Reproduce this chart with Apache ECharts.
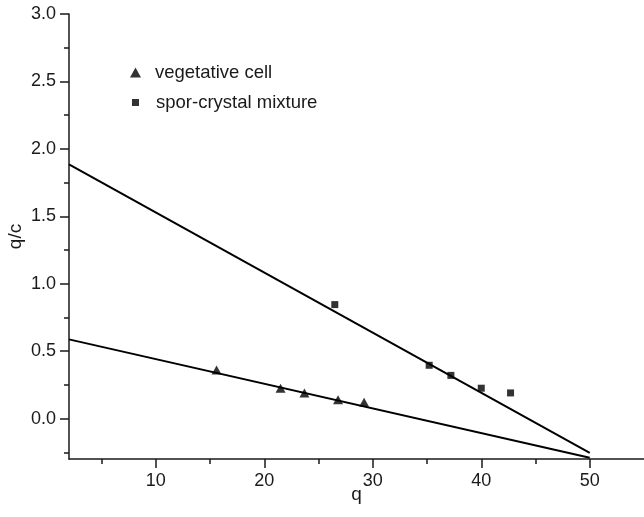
<!DOCTYPE html>
<html>
<head>
<meta charset="utf-8">
<script src="https://cdn.jsdelivr.net/npm/echarts@6/dist/echarts.min.js"></script>
<style>
  html, body { margin: 0; padding: 0; background: #fff; }
  #chart { width: 644px; height: 517px; }
</style>
</head>
<body>
<div id="chart"></div>
<script>
// data
var vegQ = [15.6, 21.5, 23.7, 26.8, 29.2];
var vegQC = [0.36, 0.225, 0.19, 0.14, 0.12];
var sporQ = [26.5, 35.2, 37.2, 40.0, 42.7];
var sporQC = [0.845, 0.395, 0.32, 0.225, 0.19];
// fitted lines, endpoints
var vegLineQ = [2, 50];
var vegLineQC = [0.587, -0.29];
var sporLineQ = [2, 50];
var sporLineQC = [1.884, -0.255];
// ticks
var xMajor = [10, 20, 30, 40, 50];
var xMinor = [5, 15, 25, 35, 45];
var yMajor = [0, 0.5, 1.0, 1.5, 2.0, 2.5, 3.0];
var yMinor = [-0.25, 0.25, 0.75, 1.25, 1.75, 2.25, 2.75];

function pairs(a, b) {
    return a.map(function (v, i) { return [v, b[i]]; });
}

var font = 'Liberation Sans, Arial, sans-serif';
var ink = '#1a1a1a';

var myChart = echarts.init(document.getElementById('chart'));
var option = {
    animation: false,
    textStyle: { fontFamily: font },
    grid: { left: 69, right: 0, top: 14, bottom: 58, outerBoundsMode: 'none', containLabel: false },
    legend: [{
        orient: 'vertical',
        left: 130,
        top: 63,
        padding: 0,
        itemWidth: 11,
        itemHeight: 10,
        textStyle: { fontSize: 18.5, color: ink, fontFamily: font, padding: [0, 0, 0, 9] },
        data: [{ name: 'vegetative cell', icon: 'triangle' }]
    }, {
        orient: 'vertical',
        left: 132,
        top: 93,
        padding: 0,
        itemWidth: 7,
        itemHeight: 7,
        textStyle: { fontSize: 18.5, color: ink, fontFamily: font, padding: [0, 0, 0, 12] },
        data: [{ name: 'spor-crystal mixture', icon: 'rect' }]
    }],
    xAxis: [{
        type: 'value',
        min: 2,
        max: 55,
        name: 'q',
        nameLocation: 'middle',
        nameGap: 26,
        nameMoveOverlap: false,
        nameTextStyle: { fontSize: 19, color: ink, fontFamily: font },
        splitLine: { show: false },
        axisLine: { onZero: false, lineStyle: { color: ink, width: 1.5 } },
        axisTick: { customValues: xMajor, length: 9, lineStyle: { color: ink, width: 1.5 } },
        axisLabel: { customValues: xMajor, fontSize: 18, color: ink, margin: 13, fontFamily: font }
    }, {
        type: 'value',
        min: 2,
        max: 55,
        position: 'bottom',
        splitLine: { show: false },
        axisLine: { show: false, onZero: false },
        axisTick: { customValues: xMinor, length: 5, lineStyle: { color: ink, width: 1.5 } },
        axisLabel: { show: false }
    }],
    yAxis: [{
        type: 'value',
        min: -0.3,
        max: 3.0,
        name: 'q/c',
        nameLocation: 'middle',
        nameGap: 44,
        nameMoveOverlap: false,
        nameTextStyle: { fontSize: 19, color: ink, fontFamily: font },
        splitLine: { show: false },
        axisLine: { onZero: false, lineStyle: { color: ink, width: 1.5 } },
        axisTick: { customValues: yMajor, length: 9, lineStyle: { color: ink, width: 1.5 } },
        axisLabel: {
            customValues: yMajor, fontSize: 18, color: ink, margin: 13, fontFamily: font,
            formatter: function (v) { return v.toFixed(1); }
        }
    }, {
        type: 'value',
        min: -0.3,
        max: 3.0,
        position: 'left',
        splitLine: { show: false },
        axisLine: { show: false, onZero: false },
        axisTick: { customValues: yMinor, length: 5, lineStyle: { color: ink, width: 1.5 } },
        axisLabel: { show: false }
    }],
    series: [{
        name: 'vegetative cell',
        type: 'scatter',
        symbol: 'triangle',
        symbolSize: [10, 9],
        itemStyle: { color: '#000' },
        data: pairs(vegQ, vegQC),
        z: 3
    }, {
        name: 'spor-crystal mixture',
        type: 'scatter',
        symbol: 'rect',
        symbolSize: 7,
        itemStyle: { color: '#000' },
        data: pairs(sporQ, sporQC),
        z: 3
    }, {
        type: 'line',
        symbol: 'none',
        lineStyle: { color: '#000', width: 2 },
        data: pairs(vegLineQ, vegLineQC)
    }, {
        type: 'line',
        symbol: 'none',
        lineStyle: { color: '#000', width: 2 },
        data: pairs(sporLineQ, sporLineQC)
    }]
};

myChart.setOption(option);
</script>
</body>
</html>
